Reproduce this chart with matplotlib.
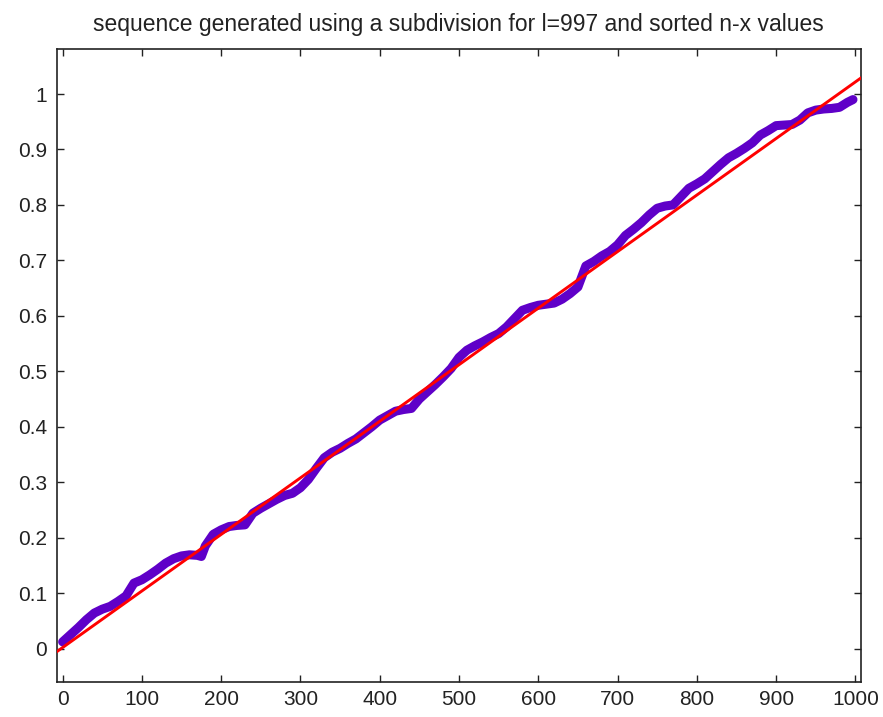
import matplotlib
matplotlib.use("Agg")
import matplotlib.pyplot as plt
import numpy as np

title = "sequence generated using a subdivision for l=997 and sorted n-x values"

seq_x = [0, 10, 20, 30, 40, 50, 60, 70, 80, 90, 100, 110, 120, 130, 140, 150, 160, 170, 175,
         180, 190, 200, 210, 220, 230, 240, 250, 260, 270, 280, 290, 300, 310, 320, 330, 340,
         350, 360, 370, 380, 390, 400, 410, 420, 430, 440, 450, 460, 470, 480, 490, 500, 510,
         520, 530, 540, 550, 560, 570, 580, 590, 600, 610, 620, 630, 640, 650, 660, 670, 680,
         690, 700, 710, 720, 730, 740, 750, 760, 770, 780, 790, 800, 810, 820, 830, 840, 850,
         860, 870, 880, 890, 900, 910, 920, 930, 940, 950, 960, 970, 980, 990, 997]
seq_y = [0.012, 0.025, 0.038, 0.052, 0.064, 0.071, 0.076, 0.085, 0.095, 0.118, 0.124, 0.133,
         0.143, 0.154, 0.162, 0.167, 0.169, 0.168, 0.166, 0.185, 0.206, 0.214, 0.220, 0.222,
         0.223, 0.244, 0.253, 0.261, 0.269, 0.276, 0.280, 0.290, 0.305, 0.325, 0.344, 0.354,
         0.361, 0.370, 0.378, 0.389, 0.400, 0.412, 0.420, 0.428, 0.431, 0.433, 0.450, 0.463,
         0.476, 0.490, 0.505, 0.525, 0.538, 0.546, 0.553, 0.561, 0.568, 0.580, 0.595, 0.610,
         0.615, 0.619, 0.621, 0.623, 0.630, 0.640, 0.652, 0.690, 0.698, 0.708, 0.716, 0.728,
         0.745, 0.756, 0.768, 0.782, 0.794, 0.798, 0.800, 0.815, 0.830, 0.838, 0.847, 0.860,
         0.873, 0.885, 0.893, 0.902, 0.912, 0.926, 0.934, 0.943, 0.944, 0.945, 0.953, 0.966,
         0.971, 0.973, 0.974, 0.976, 0.985, 0.990]

fit_slope = 0.00102
fit_intercept = 0.0018

x_ticks = [0, 100, 200, 300, 400, 500, 600, 700, 800, 900, 1000]
y_ticks = [0, 0.1, 0.2, 0.3, 0.4, 0.5, 0.6, 0.7, 0.8, 0.9, 1]
y_tick_labels = ["0", "0.1", "0.2", "0.3", "0.4", "0.5", "0.6", "0.7", "0.8", "0.9", "1"]

plt.rcParams['font.family'] = ['Liberation Sans', 'DejaVu Sans']

fig = plt.figure(figsize=(8.83, 7.17), dpi=100)
ax = fig.add_axes([0.0642, 0.0488, 0.975 - 0.0642, 0.9312 - 0.0488])

xlim = (-7.5, 1007)
ax.plot(seq_x, seq_y, color='#5F00C8', linewidth=6.5, solid_capstyle='round',
        solid_joinstyle='round', zorder=2)
fx = np.array(xlim)
ax.plot(fx, fit_slope * fx + fit_intercept, color='#FF0000', linewidth=2.1, zorder=3)

ax.set_xlim(*xlim)
ax.set_ylim(-0.0604, 1.0806)
ax.set_xticks(x_ticks)
ax.set_xticklabels([str(t) for t in x_ticks])
ax.set_yticks(y_ticks)
ax.set_yticklabels(y_tick_labels)
ax.tick_params(direction='in', length=5, width=1, top=True, right=True,
               labelsize=15, pad=7, colors='#222222')
ax.tick_params(axis='x', pad=6)
for s in ax.spines.values():
    s.set_linewidth(1.2)
    s.set_color('#222222')
ax.set_title(title, fontsize=16.5, pad=13, color='#222222')

fig.savefig("out.png", dpi=100)
